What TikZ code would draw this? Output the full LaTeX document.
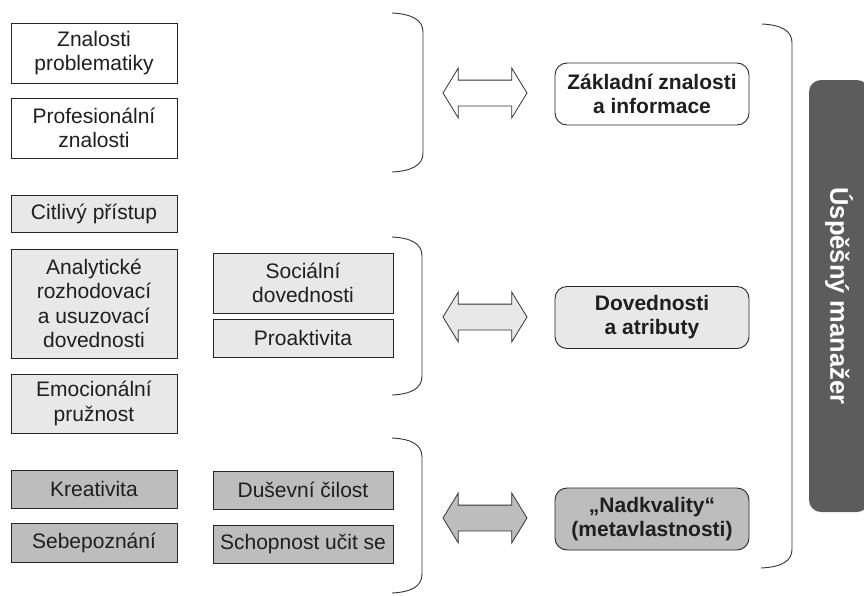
\documentclass[tikz,border=0pt]{standalone}
\usepackage{fontspec}
\setmainfont{Liberation Sans}
\usetikzlibrary{positioning,shapes.arrows}
\definecolor{svetla}{gray}{0.91}
\definecolor{stredni}{gray}{0.74}
\definecolor{tmava}{gray}{0.36}
\definecolor{text}{gray}{0.12}
\tikzset{
    box/.style={draw=black!85, line width=0.9pt, align=center, inner sep=2pt, text=text, font=\fontsize{21}{24.5}\selectfont}, % obdelnik s textem
    bila/.style={box, fill=white},
    sveta/.style={box, fill=svetla},
    seda/.style={box, fill=stredni},
    oblast/.style={box, rounded corners=12pt, minimum width=194pt, minimum height=62pt, font=\bfseries\fontsize{21}{24}\selectfont},
    sipka/.style={double arrow, draw=black!80, line width=0.8pt, minimum height=84pt, minimum width=49pt, double arrow head extend=12pt, double arrow tip angle=117, inner xsep=0pt, inner ysep=12.5pt},
    zavorka/.style={draw=black!80, line width=0.9pt}
}

\begin{document}
\begin{tikzpicture}[x=1pt, y=-1pt]
    \useasboundingbox (0,0) rectangle (864,595);

    % levy sloupec
    \node (zp) [bila, minimum width=166pt, minimum height=60pt] at (94, 53) {Znalosti\\problematiky};
    \node (pz) [bila, minimum width=166pt, minimum height=60pt] at (94, 128) {Profesionální\\znalosti};
    \node (cp) [sveta, minimum width=166pt, minimum height=37pt] at (94, 213.5) {Citlivý přístup};
    \node (an) [sveta, minimum width=166pt, minimum height=109pt] at (94, 303.5) {Analytické\\rozhodovací\\a usuzovací\\dovednosti};
    \node (ep) [sveta, minimum width=166pt, minimum height=59pt] at (94, 403.5) {Emocionální\\pružnost};
    \node (kr) [seda, minimum width=166pt, minimum height=38pt] at (94, 489) {Kreativita};
    \node (sb) [seda, minimum width=166pt, minimum height=39pt] at (94, 542.5) {Sebepoznání};

    % pravy sloupec
    \node (sd) [sveta, minimum width=180pt, minimum height=60pt] at (303, 283) {Sociální\\dovednosti};
    \node (pr) [sveta, minimum width=180pt, minimum height=38pt] at (303, 338) {Proaktivita};
    \node (dc) [seda, minimum width=180pt, minimum height=38pt] at (303, 490) {Duševní čilost};
    \node (su) [seda, minimum width=180pt, minimum height=38pt] at (303, 544) {Schopnost učit se};

    % zavorky
    \draw[zavorka] (392,13) .. controls (412,14) and (423,20) .. (423,32) -- (423,153) .. controls (423,165) and (412,171) .. (392,172);
    \draw[zavorka] (392,237) .. controls (412,238) and (422,244) .. (422,256) -- (422,376) .. controls (422,388) and (412,394) .. (392,395);
    \draw[zavorka] (392,438) .. controls (412,439) and (422,445) .. (422,457) -- (422,574) .. controls (422,586) and (412,592) .. (392,593);
    \draw[zavorka] (762,24) .. controls (782,25) and (792,31) .. (792,43) -- (792,549) .. controls (792,561) and (782,567) .. (761,568);

    % sipky
    \node (s1) [sipka, fill=white] at (485, 93) {};
    \node (s2) [sipka, fill=svetla] at (485, 317) {};
    \node (s3) [sipka, fill=stredni] at (485, 518) {};

    % skupiny
    \node (zi) [oblast, fill=white] at (652, 94) {Základní znalosti\\a informace};
    \node (da) [oblast, fill=svetla] at (652, 317.5) {Dovednosti\\a atributy};
    \node (nk) [oblast, fill=stredni] at (652, 519) {„Nadkvality“\\(metavlastnosti)};

    \node (um) [rotate=-90, fill=tmava, rounded corners=12pt, minimum width=432pt, minimum height=60pt, text=white, font=\bfseries\fontsize{25.5}{28}\selectfont] at (839, 296) {Úspěšný manažer};
\end{tikzpicture}
\end{document}
